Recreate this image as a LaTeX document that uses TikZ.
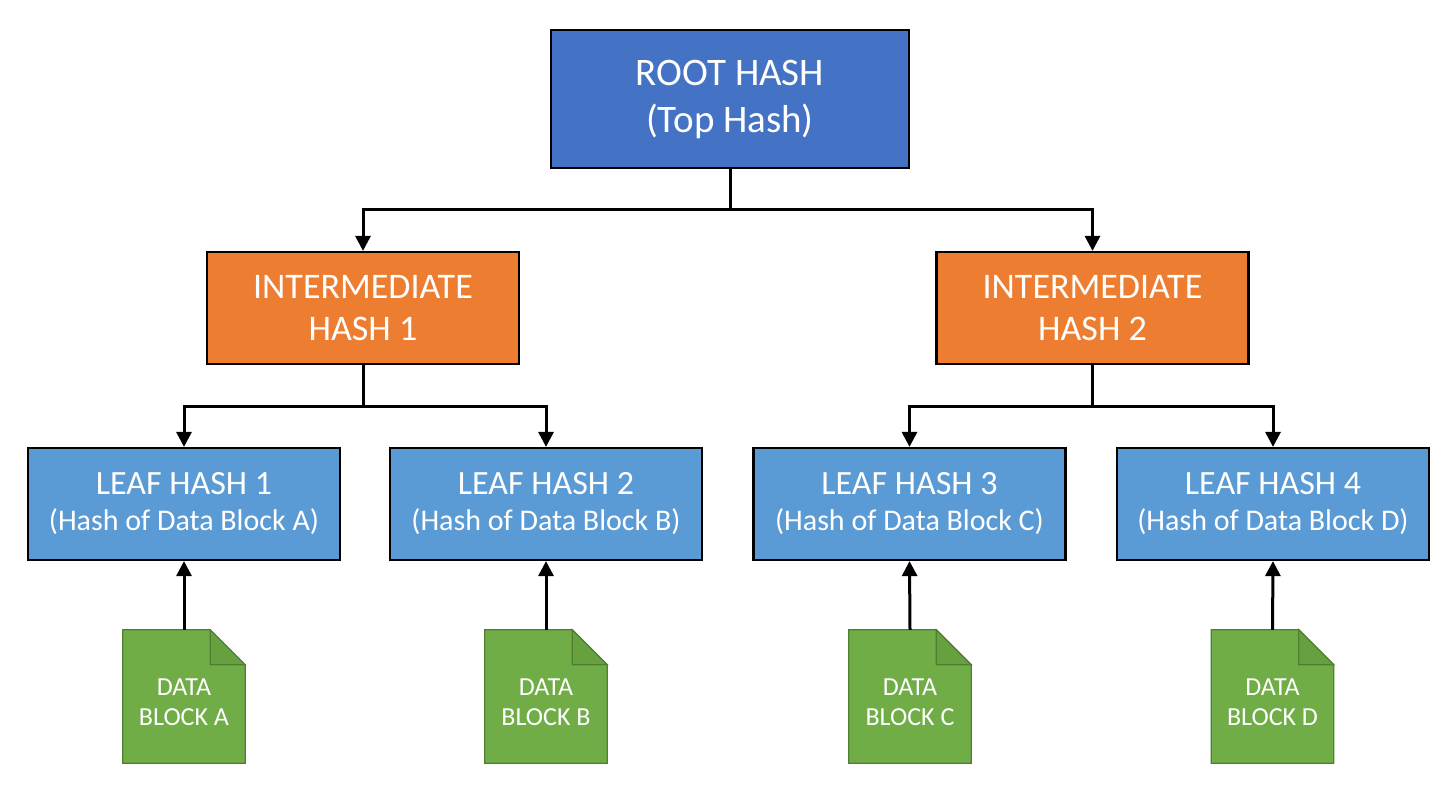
\documentclass[tikz,border=0pt]{standalone}
\usepackage{fontspec}
\setmainfont{Carlito}
\usetikzlibrary{arrows.meta}
\definecolor{rootblue}{HTML}{4472C4}
\definecolor{leafblue}{HTML}{5B9BD5}
\definecolor{midorange}{HTML}{ED7D31}
\definecolor{datagreen}{HTML}{70AD47}
\definecolor{datadark}{HTML}{507E32}
\definecolor{foldgreen}{HTML}{66A03F}
\tikzset{
  hashbox/.style={draw=black, line width=2.2pt, text=white, align=center, inner sep=0pt},
  rootbox/.style={hashbox, fill=rootblue, minimum width=358pt, minimum height=138pt,
     font=\fontsize{39}{47}\selectfont},
  midbox/.style={hashbox, fill=midorange, minimum width=312pt, minimum height=112pt,
     font=\fontsize{36}{42}\selectfont},
  leafbox/.style={hashbox, fill=leafblue, minimum width=312pt, minimum height=112pt,
     font=\fontsize{30}{36}\selectfont},
  datanode/.style={minimum width=122pt, minimum height=133pt, inner sep=0pt, text=white,
     align=center, font=\fontsize{26}{30}\selectfont},
  conn/.style={line width=3pt, black},
  arr/.style={conn, -{Triangle[width=15pt,length=15pt]}},
}
\newcommand{\leaftext}[2]{{\fontsize{34}{36}\selectfont #1}\\#2}
\newcommand{\docshape}[1]{%
  \fill[datagreen, draw=datadark, line width=1.2pt]
    (#1.north west) -- ([xshift=-35pt]#1.north east) -- ([yshift=-35pt]#1.north east)
    -- (#1.south east) -- (#1.south west) -- cycle;
  \fill[foldgreen, draw=datadark, line width=1.2pt]
    ([xshift=-35pt]#1.north east) -- ([xshift=-35pt,yshift=-35pt]#1.north east)
    -- ([yshift=-35pt]#1.north east) -- cycle;
}
\begin{document}
\begin{tikzpicture}[x=1pt,y=-1pt]
\useasboundingbox[fill=white] (0,0) rectangle (1456,794);

\node[rootbox] (root) at (730,99) {ROOT HASH\\(Top Hash)};
\node[midbox] (i1) at (363,308) {INTERMEDIATE\\HASH 1};
\node[midbox] (i2) at (1092.5,308) {INTERMEDIATE\\HASH 2};

\node[leafbox] (l1) at (184,504) {\leaftext{LEAF HASH 1}{(Hash of Data Block A)}};
\node[leafbox] (l2) at (546,504) {\leaftext{LEAF HASH 2}{(Hash of Data Block B)}};
\node[leafbox] (l3) at (909.5,504) {\leaftext{LEAF HASH 3}{(Hash of Data Block C)}};
\node[leafbox] (l4) at (1273,504) {\leaftext{LEAF HASH 4}{(Hash of Data Block D)}};

\node[datanode] (d1) at (184,696.5) {};
\node[datanode] (d2) at (546,696.5) {};
\node[datanode] (d3) at (910,696.5) {};
\node[datanode] (d4) at (1272.5,696.5) {};
\docshape{d1}\docshape{d2}\docshape{d3}\docshape{d4}
\node[datanode] (t1) at ([yshift=-6pt]d1) {DATA\\BLOCK A};
\node[datanode] (t2) at ([yshift=-6pt]d2) {DATA\\BLOCK B};
\node[datanode] (t3) at ([yshift=-6pt]d3) {DATA\\BLOCK C};
\node[datanode] (t4) at ([yshift=-6pt]d4) {DATA\\BLOCK D};

\coordinate (j0) at (730,210);
\coordinate (j1) at (363,406);
\coordinate (j2) at (1092.5,406);

\draw[conn] (root.south) -- (j0);
\draw[arr] (j0) -| (i1.north);
\draw[arr] (j0) -| (i2.north);

\draw[conn] (i1.south) -- (j1);
\draw[arr] (j1) -| (l1.north);
\draw[arr] (j1) -| (l2.north);
\draw[conn] (i2.south) -- (j2);
\draw[arr] (j2) -| (l3.north);
\draw[arr] (j2) -| (l4.north);

\draw[arr] (d1.north) -- (l1.south);
\draw[arr] (d2.north) -- (l2.south);
\draw[arr] (d3.north) -- (l3.south);
\draw[arr] (d4.north) -- (l4.south);
\end{tikzpicture}
\end{document}
